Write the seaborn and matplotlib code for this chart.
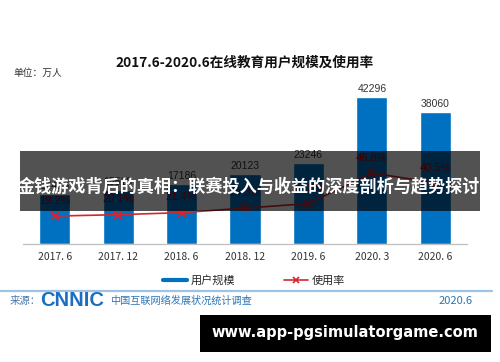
import matplotlib
matplotlib.use("Agg")
import matplotlib.pyplot as plt
import seaborn as sns
import pandas as pd
from matplotlib.patches import Rectangle
from matplotlib.lines import Line2D

# ---- data ----
periods = ["2017. 6", "2017. 12", "2018. 6", "2018. 12", "2019. 6", "2020. 3", "2020. 6"]
users = [14426, 15518, 17186, 20123, 23246, 42296, 38060]
rates = [19.2, 20.1, 21.4, 24.3, 27.2, 46.8, 40.5]

title = "2017.6-2020.6在线教育用户规模及使用率"
unit_text = "单位：万人"
legend_labels = ["用户规模", "使用率"]
banner_text = "金钱游戏背后的真相：联赛投入与收益的深度剖析与趋势探讨"
source_prefix = "来源："
source_logo = "CNNIC"
source_name = "中国互联网络发展状况统计调查"
source_date = "2020.6"
site_text = "www.app-pgsimulatorgame.com"

BLUE = "#0070C0"
RED = "#D22630"

sns.set_style("white")
plt.rcParams["font.family"] = ["Noto Sans CJK SC", "DejaVu Sans"]

df = pd.DataFrame({"period": periods, "users": users, "rate": rates})

W, H = 500, 362
fig = plt.figure(figsize=(W / 100, H / 100), dpi=100)
fig.patch.set_facecolor("white")

def fx(x):
    return x / W

def fy(y):
    return 1 - y / H

ax = fig.add_axes([fx(23), fy(244), fx(467) - fx(23), fy(88) - fy(244)])
ax.patch.set_visible(False)
sns.barplot(data=df, x="period", y="users", color=BLUE, width=0.49, ax=ax,
            saturation=1)
ax.set_ylim(0, 45000)
ax.set_xlim(-0.5, len(periods) - 0.5)
ax.set_xlabel("")
ax.set_ylabel("")
ax.set_yticks([])
for s in ["top", "right", "left"]:
    ax.spines[s].set_visible(False)
ax.spines["bottom"].set_color("#bfbfbf")
ax.spines["bottom"].set_linewidth(0.9)
ax.tick_params(axis="x", length=0, pad=6, labelsize=7.5, labelcolor="#333333")
ax.bar_label(ax.containers[0], labels=[str(v) for v in users], padding=2.5,
             fontsize=7.5, color="#333333", family="Liberation Sans")

ax2 = ax.twinx()
sns.lineplot(data=df, x="period", y="rate", sort=False, color=RED, lw=1.2,
             marker="x", markersize=6, mew=1.5, mec=RED, ax=ax2)
ax2.set_ylim(1.3, 101.3)
ax2.set_xlim(-0.5, len(periods) - 0.5)
ax2.set_ylabel("")
ax2.set_yticks([])
for s in ["top", "right", "left", "bottom"]:
    ax2.spines[s].set_visible(False)
for i, r in enumerate(rates):
    ax2.annotate(f"{r}%", (i, r), xytext=(0, 11), textcoords="offset points",
                 ha="center", va="center", fontsize=8, color="#C00000",
                 family="Liberation Sans")

# title + unit
fig.text(fx(245), fy(63), title, ha="center", va="center", fontsize=9.8,
         fontweight="bold", color="#111111")
fig.text(fx(13), fy(73), unit_text, ha="left", va="center", fontsize=7,
         color="#333333")

# legend
handles = [Line2D([], [], color=BLUE, lw=3),
           Line2D([], [], color=RED, lw=1.2, marker="x", markersize=5, mew=1.2)]
fig.legend(handles, legend_labels, loc="center", bbox_to_anchor=(fx(254), fy(280)),
           ncol=2, frameon=False, fontsize=8, handlelength=2.2, handletextpad=0.3,
           columnspacing=4.4)

# footer
fig.add_artist(Line2D([0, fx(492)], [fy(291), fy(291)], color="#9DC3E6", lw=1.6,
                      transform=fig.transFigure))
fig.text(fx(10), fy(301), source_prefix, ha="left", va="center", fontsize=7.5,
         color="#4a7ab0")
fig.text(fx(40), fy(301), source_logo, ha="left", va="center", fontsize=14.5,
         fontweight="heavy", color="#1a6fc0", family="Liberation Sans")
fig.text(fx(110), fy(301), source_name, ha="left", va="center", fontsize=7.3,
         color="#2E75B6")
fig.text(fx(473), fy(301), source_date, ha="right", va="center", fontsize=8,
         color="#2E75B6")

# banner overlay
fig.add_artist(Rectangle((fx(20), fy(211)), fx(480) - fx(20), fy(151) - fy(211),
                         transform=fig.transFigure, facecolor="black", alpha=0.68,
                         edgecolor="none", zorder=10))
fig.text(fx(249), fy(186), banner_text, ha="center", va="center", fontsize=12.3,
         fontweight="bold", color="white", zorder=11)

# site box
fig.add_artist(Rectangle((fx(200), fy(352)), fx(491) - fx(200), fy(315) - fy(352),
                         transform=fig.transFigure, facecolor="black",
                         edgecolor="none", zorder=10))
fig.text(fx(345), fy(333), site_text, ha="center", va="center", fontsize=10.5,
         fontweight="bold", color="white", zorder=11, family="DejaVu Sans")

fig.savefig("out.png", dpi=100)
